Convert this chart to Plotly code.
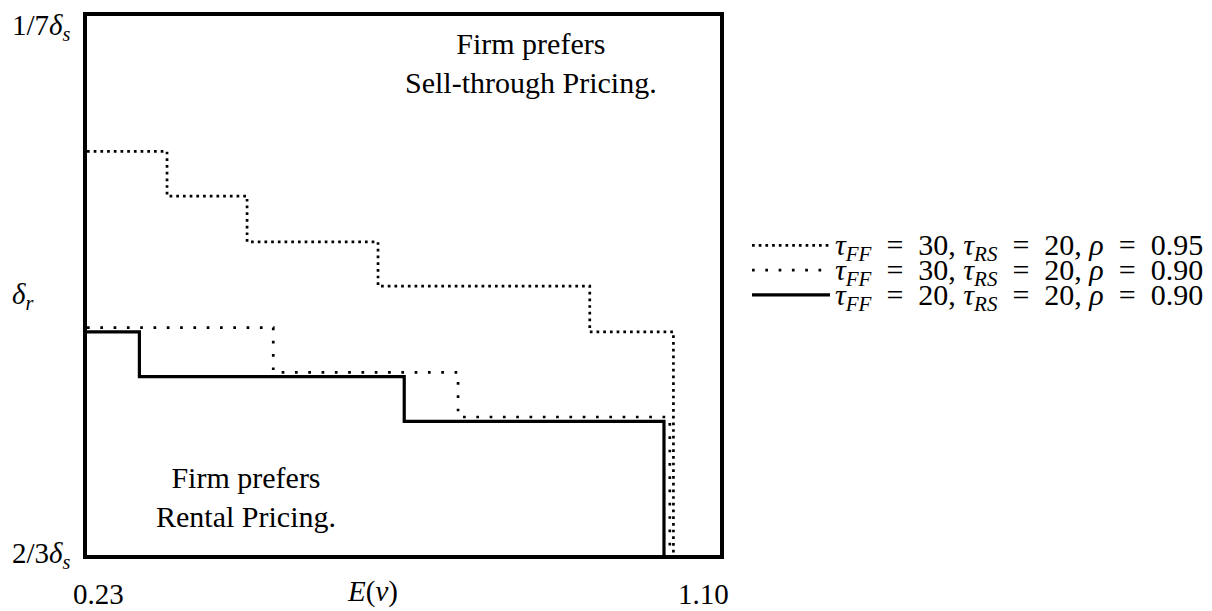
import plotly.graph_objects as go

# ---- data ----
E_rho095 = [0.23, 0.340, 0.450, 0.630, 0.921, 1.036]
L_rho095 = [0.749, 0.666, 0.581, 0.499, 0.414, 0.0]

E_rho090 = [0.23, 0.486, 0.740, 1.031]
L_rho090 = [0.422, 0.339, 0.256, 0.0]

E_tff20 = [0.23, 0.302, 0.666, 1.023]
L_tff20 = [0.414, 0.331, 0.248, 0.0]

x_range = [0.23, 1.10]
x_tick_labels = ["0.23", "1.10"]
y_tick_vals = [1.0, 0.48, 0.0]
y_tick_labels = ["1/7<i>δ</i><sub><i>s</i></sub>", "<i>δ</i><sub><i>r</i></sub>", "2/3<i>δ</i><sub><i>s</i></sub>"]

SP = "\u00a0"
series_names = [
    f"<i>τ</i><sub><i>FF</i></sub>{SP} ={SP} 30,{SP}<i>τ</i><sub><i>RS</i></sub>{SP} ={SP} 20,{SP}<i>ρ</i>{SP} ={SP} 0.95",
    f"<i>τ</i><sub><i>FF</i></sub>{SP} ={SP} 30,{SP}<i>τ</i><sub><i>RS</i></sub>{SP} ={SP} 20,{SP}<i>ρ</i>{SP} ={SP} 0.90",
    f"<i>τ</i><sub><i>FF</i></sub>{SP} ={SP} 20,{SP}<i>τ</i><sub><i>RS</i></sub>{SP} ={SP} 20,{SP}<i>ρ</i>{SP} ={SP} 0.90",
]

FONT = "'Liberation Serif', 'Times New Roman', 'DejaVu Serif', serif"
FS = 29

fig = go.Figure()
styles = [
    dict(color="black", width=2.7, dash="2.7px,4px"),
    dict(color="black", width=2.7, dash="2.7px,10.6px"),
    dict(color="black", width=3.2, dash="solid"),
]
for (xs, ys), st, nm in zip([(E_rho095, L_rho095), (E_rho090, L_rho090), (E_tff20, L_tff20)], styles, series_names):
    fig.add_trace(go.Scatter(x=xs, y=ys, mode="lines", line=dict(shape="hv", **st),
                             name=nm, showlegend=False, hoverinfo="skip"))

# plot area pixel geometry
L, R, T, B = 87, 720, 12, 555
W = R - L
H = B - T

def px_x(p):
    return (p - L) / W

def px_y(p):
    return (B - p) / H

annotations = []
# y tick labels (left aligned)
y_shifts = [-11, 0, 0]
for v, t, s in zip(y_tick_vals, y_tick_labels, y_shifts):
    annotations.append(dict(xref="paper", yref="y", x=px_x(10), y=v, yshift=s, text=t,
                            showarrow=False, xanchor="left", yanchor="middle",
                            font=dict(family=FONT, size=FS, color="black")))
# x tick labels
annotations.append(dict(xref="x", yref="paper", x=x_range[0], y=px_y(594), xshift=11, text=x_tick_labels[0],
                        showarrow=False, xanchor="center", yanchor="middle",
                        font=dict(family=FONT, size=FS, color="black")))
annotations.append(dict(xref="x", yref="paper", x=x_range[1], y=px_y(594), xshift=-17, text=x_tick_labels[1],
                        showarrow=False, xanchor="center", yanchor="middle",
                        font=dict(family=FONT, size=FS, color="black")))
# x axis title
annotations.append(dict(xref="paper", yref="paper", x=px_x(372), y=px_y(592), text="<i>E</i>(<i>ν</i>)",
                        showarrow=False, xanchor="center", yanchor="middle",
                        font=dict(family=FONT, size=FS, color="black")))
# region labels
annotations.append(dict(xref="paper", yref="paper", x=px_x(531), y=px_y(59), text="Firm prefers<br>Sell-through Pricing.",
                        showarrow=False, xanchor="center", yanchor="middle", align="center",
                        font=dict(family=FONT, size=30, color="black")))
annotations.append(dict(xref="paper", yref="paper", x=px_x(246), y=px_y(497), text="Firm prefers<br>Rental Pricing.",
                        showarrow=False, xanchor="center", yanchor="middle", align="center",
                        font=dict(family=FONT, size=30, color="black")))

# legend (manual)
shapes = []
leg_rows = [243, 268, 293]
for st, nm, ry in zip(styles, series_names, leg_rows):
    shapes.append(dict(type="line", xref="paper", yref="paper", x0=px_x(752), x1=px_x(830),
                       y0=px_y(ry), y1=px_y(ry), line=st))
    annotations.append(dict(xref="paper", yref="paper", x=px_x(833), y=px_y(ry + 2), text=nm,
                            showarrow=False, xanchor="left", yanchor="middle",
                            font=dict(family=FONT, size=30, color="black")))

fig.update_layout(
    width=1212, height=611,
    margin=dict(l=L, r=1212 - R, t=T, b=611 - B),
    paper_bgcolor="white", plot_bgcolor="white",
    font=dict(family=FONT, size=FS, color="black"),
    xaxis=dict(range=x_range, showgrid=False, zeroline=False, showticklabels=False, ticks="",
               showline=True, mirror=True, linecolor="black", linewidth=3.5),
    yaxis=dict(range=[0, 1], showgrid=False, zeroline=False, showticklabels=False, ticks="",
               showline=True, mirror=True, linecolor="black", linewidth=3.5),
    annotations=annotations, shapes=shapes,
    showlegend=False,
)

fig.write_html("out.html", config={"displayModeBar": False},
               post_script="document.body.style.margin='0px';document.body.style.overflow='hidden';")
